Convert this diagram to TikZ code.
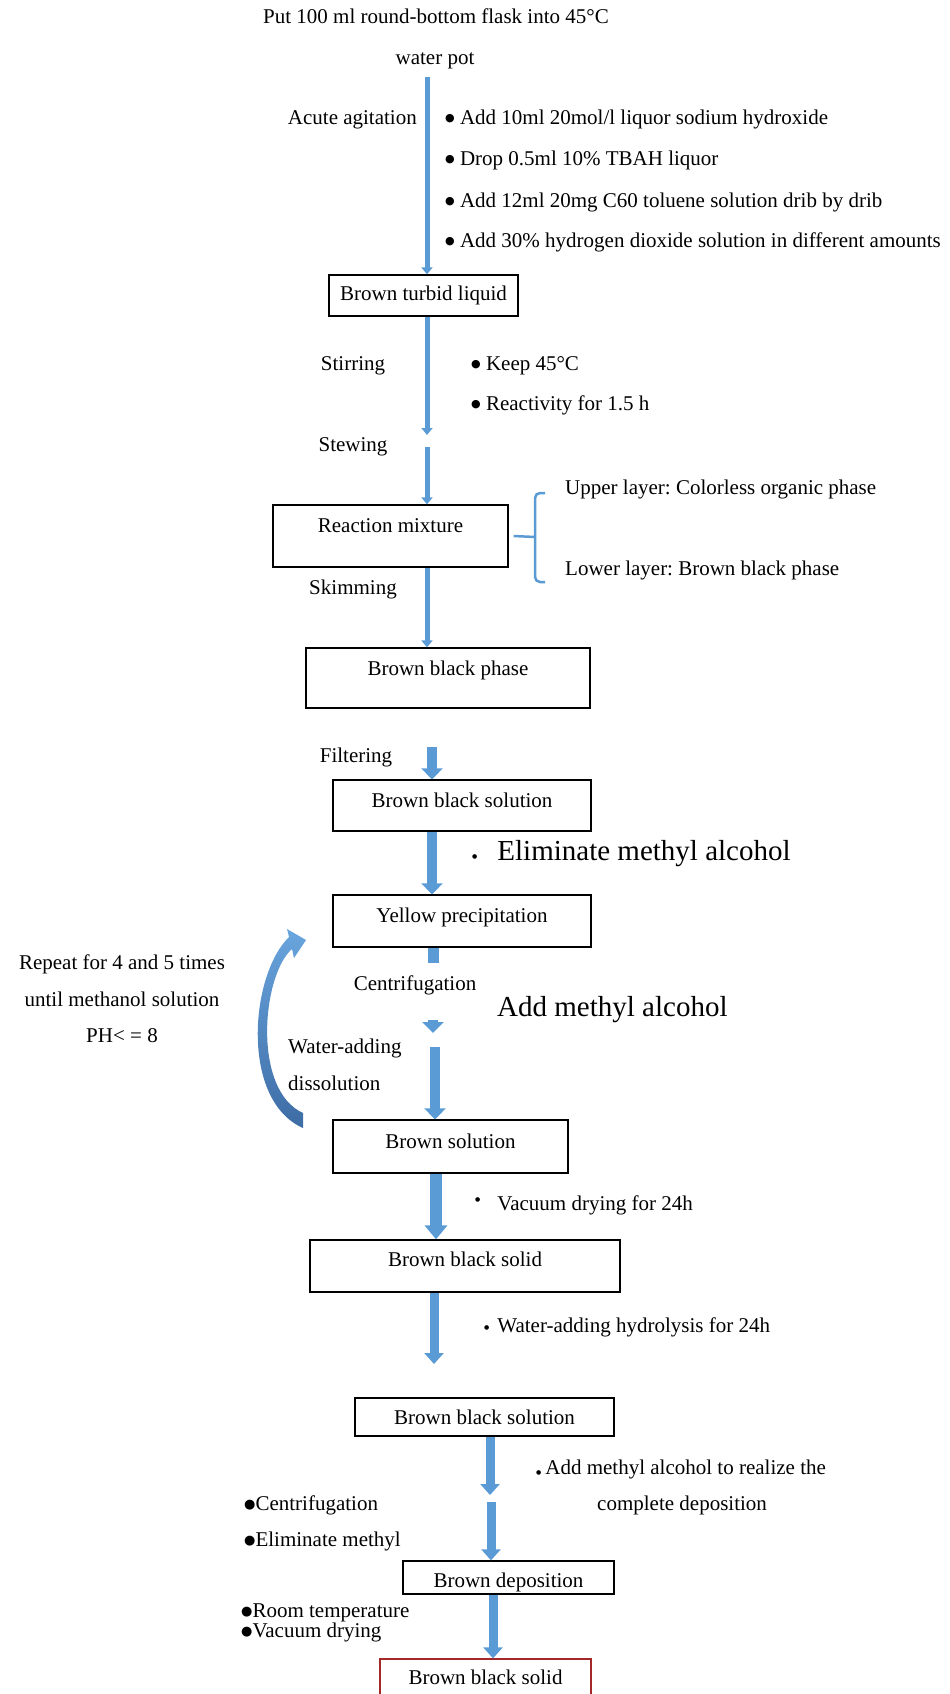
\documentclass[tikz,border=0pt]{standalone}
\usepackage{fontspec}
\setmainfont{Liberation Serif}
\newfontfamily\symfont{DejaVu Sans}
\usetikzlibrary{arrows.meta}
\definecolor{flowblue}{RGB}{91,155,213}
\definecolor{flowdark}{RGB}{62,108,165}
\definecolor{flowlight}{RGB}{105,165,222}
\definecolor{boxred}{RGB}{165,40,40}
\newcommand\mybul{\raisebox{2.5pt}{\symfont\fontsize{11}{11}\selectfont ●}}
\newcommand\mymed{\raisebox{1.5pt}{\symfont\fontsize{13}{13}\selectfont ●}}
\newcommand\mydot{{\symfont\fontsize{6}{6}\selectfont ●}}
\frenchspacing
\begin{document}
\begin{tikzpicture}[x=1pt,y=-1pt,
  every node/.style={font=\fontsize{21}{25}\selectfont, inner sep=0pt},
  bigtext/.style={font=\fontsize{29}{33}\selectfont},
  box/.style={draw=black, line width=1.3pt, text height=15pt, text depth=5pt},
  thinarrow/.style={draw=flowblue, line width=5pt, -{Triangle[width=11pt,length=7pt]}},
  thickarrow/.style={draw=flowblue, line width=10pt, -{Triangle[width=21pt,length=11pt]}},
  heavyarrow/.style={draw=flowblue, line width=12pt, -{Triangle[width=22pt,length=14pt]}},
  midarrow/.style={draw=flowblue, line width=9pt, -{Triangle[width=19pt,length=11pt]}},
  stub/.style={draw=flowblue, line width=11pt},
  bracestyle/.style={draw=flowblue, line width=2.5pt, rounded corners=5pt}]
\useasboundingbox (0,0) rectangle (950,1694);
\clip (0,0) rectangle (950,1694);

% ---- boxes ----
\node[box, minimum width=189pt, minimum height=41pt] (B1) at (423.5,295.5) {Brown turbid liquid};
\node[box, minimum width=235pt, minimum height=62pt, text height=6pt, text depth=14pt] (B2) at (390.5,536) {Reaction mixture};
\node[box, minimum width=284pt, minimum height=60pt, text height=7pt, text depth=13pt] (B3) at (448,678) {Brown black phase};
\node[box, minimum width=258pt, minimum height=51pt, text height=11.5pt, text depth=8.5pt] (B4) at (462,805.5) {Brown black solution};
\node[box, minimum width=258pt, minimum height=52pt, text height=11pt, text depth=9pt] (B5) at (462,921) {Yellow precipitation};
\node[box, minimum width=235pt, minimum height=53pt, text height=11.5pt, text depth=8.5pt] (B6) at (450.5,1146.5) {Brown solution};
\node[box, minimum width=310pt, minimum height=52pt, text height=10pt, text depth=10pt] (B7) at (465,1266) {Brown black solid};
\node[box, minimum width=259pt, minimum height=38pt, text height=17pt, text depth=3pt] (B8) at (484.5,1417) {Brown black solution};
\node[box, minimum width=211pt, minimum height=33pt, text height=19.5pt, text depth=0.5pt] (B9) at (508.5,1577.5) {Brown deposition};
\node[box, draw=boxred, minimum width=211pt, minimum height=61pt, text height=4.5pt, text depth=15.5pt] (B10) at (485.5,1689.5) {Brown black solid};

% ---- top texts ----
\node[anchor=base] (T1) at (436,24) {Put 100 ml round-bottom flask into 45°C};
\node[anchor=base] (T2) at (435,64) {water pot};
\node[anchor=base east] (Lacute) at (417,124) {Acute agitation};
\node[anchor=base west] (S1) at (445,124) {\mybul\ Add 10ml 20mol/l liquor sodium hydroxide};
\node[anchor=base west] (S2) at (445,165) {\mybul\ Drop 0.5ml 10\% TBAH liquor};
\node[anchor=base west] (S3) at (445,207) {\mybul\ Add 12ml 20mg C60 toluene solution drib by drib};
\node[anchor=base west] (S4) at (445,247) {\mybul\ Add 30\% hydrogen dioxide solution in different amounts};

\node[anchor=base] (Lstir) at (353,370) {Stirring};
\node[anchor=base] (Lstew) at (353,451) {Stewing};
\node[anchor=base] (Lskim) at (353,594) {Skimming};
\node[anchor=base west] (K1) at (471,370) {\mybul\ Keep 45°C};
\node[anchor=base west] (K2) at (471,410) {\mybul\ Reactivity for 1.5 h};

\node[anchor=base west] (Up) at (565,494) {Upper layer: Colorless organic phase};
\node[anchor=base west] (Low) at (565,575) {Lower layer: Brown black phase};

\node[anchor=base] (Lfilt) at (356,762) {Filtering};
\node[anchor=base west, bigtext] (Elim) at (472,860) {\raisebox{2pt}{\mydot}\hspace{20pt}Eliminate methyl alcohol};
\node[anchor=base] (Lcent) at (415,990) {Centrifugation};
\node[anchor=base west, bigtext] (Addm) at (497,1016) {Add methyl alcohol};
\node[anchor=base west] (Lwat1) at (288,1053) {Water-adding};
\node[anchor=base west] (Lwat2) at (288,1090) {dissolution};
\node[anchor=base] (R1) at (122,969) {Repeat for 4 and 5 times};
\node[anchor=base] (R2) at (122,1006) {until methanol solution};
\node[anchor=base] (R3) at (122,1042) {PH< = 8};

\node[anchor=base west] (Vac) at (475,1210) {\raisebox{9pt}{\mydot}\hspace{17pt}Vacuum drying for 24h};
\node[anchor=base west] (Hyd) at (484,1332) {\raisebox{3pt}{\mydot}\hspace{8pt}Water-adding hydrolysis for 24h};
\node[anchor=base west] (Add1) at (536,1474) {\mydot\hspace{4pt}Add methyl alcohol to realize the};
\node[anchor=base west] (Add2) at (597,1510) {complete deposition};
\node[anchor=base west] (C1) at (244,1510) {\mymed Centrifugation};
\node[anchor=base west] (C2) at (244,1546) {\mymed Eliminate methyl};
\node[anchor=base west] (D1) at (241,1617) {\mymed Room temperature};
\node[anchor=base west] (D2) at (241,1637) {\mymed Vacuum drying};

% ---- connectors ----
\coordinate (a1s) at (427,77);
\coordinate (a2e) at (427,435);
\coordinate (a3s) at (427,447);
\draw[thinarrow] (a1s) -- (a1s |- B1.north);
\draw[thinarrow] (B1.south -| a1s) -- (a2e);
\draw[thinarrow] (a3s) -- (a3s |- B2.north);
\draw[thinarrow] (B2.south -| a1s) -- (B3.north -| a1s);

\draw[bracestyle] ([xshift=5pt]B2.east) -- (535,537);
\draw[bracestyle] (545,493) -- (535,493) -- (535,582) -- (545,582);

\coordinate (a5s) at (432,747);
\draw[thickarrow] (a5s) -- (a5s |- B4.north);
\draw[thickarrow] (B4.south -| a5s) -- (B5.north -| a5s);
\coordinate (a7e) at (433,963);
\draw[stub] (B5.south -| a7e) -- (a7e);
\coordinate (h1) at (433,1020);
\coordinate (h2) at (433,1033);
\draw[thickarrow] (h1) -- (h2);
\coordinate (a7s) at (435,1047);
\draw[thickarrow] (a7s) -- (a7s |- B6.north);
\coordinate (a8) at (436,1180);
\draw[heavyarrow] (B6.south -| a8) -- (B7.north -| a8);
\coordinate (a9e) at (434,1364);
\draw[midarrow] (B7.south -| a9e) -- (a9e);
\coordinate (a10e) at (490,1495);
\draw[midarrow] (B8.south -| a10e) -- (a10e);
\coordinate (a11s) at (491,1502);
\draw[midarrow] (a11s) -- (a11s |- B9.north);
\coordinate (a12) at (493,1600);
\draw[midarrow] (B9.south -| a12) -- (B10.north -| a12);

% ---- curved return arrow ----
\shade[top color=flowlight, bottom color=flowdark]
  (303,1128) .. controls (240,1100) and (250,975) .. (289,937)
  -- (287,929) -- (306,940) -- (294,958) -- (292,949)
  .. controls (262,975) and (252,1090) .. (303,1113) -- cycle;
\end{tikzpicture}
\end{document}
